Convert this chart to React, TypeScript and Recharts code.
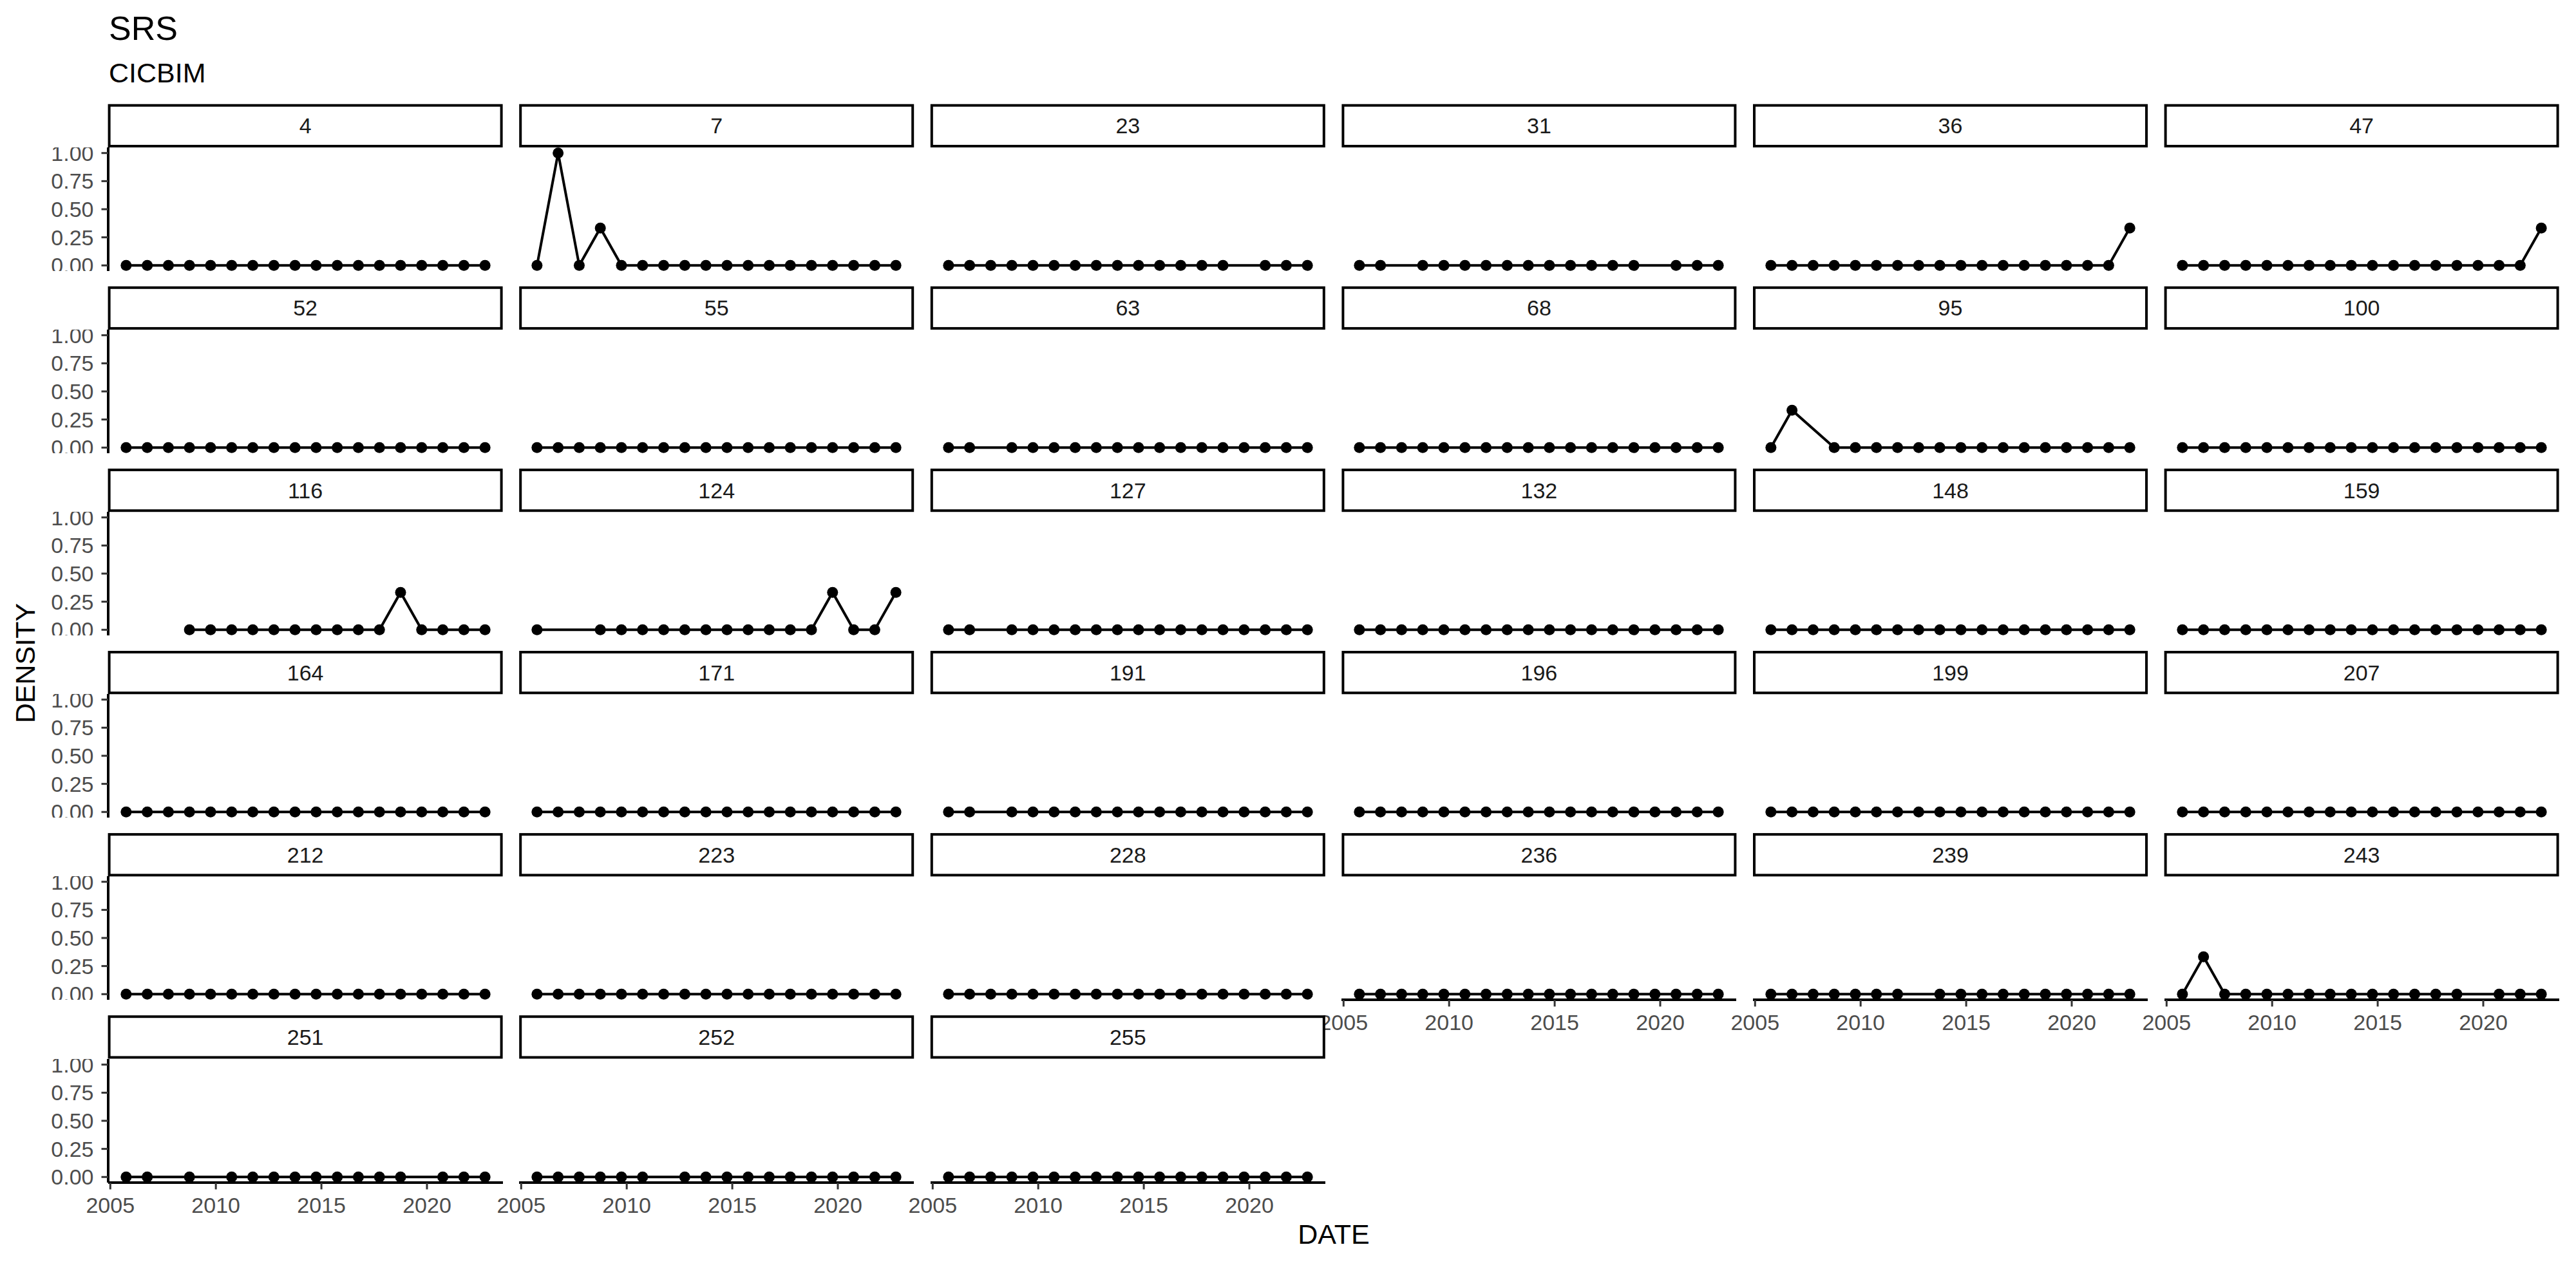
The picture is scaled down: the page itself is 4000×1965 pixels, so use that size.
import React from "react";
import { LineChart, Line, XAxis, YAxis } from "recharts";

// Facet grid of yearly DENSITY per site, SRS / CICBIM.
// Missing survey years are null and skipped, so the line joins across them.

const _ = null;

const DATES = [
  2005.75, 2006.75, 2007.75, 2008.75, 2009.75, 2010.75, 2011.75, 2012.75, 2013.75,
  2014.75, 2015.75, 2016.75, 2017.75, 2018.75, 2019.75, 2020.75, 2021.75, 2022.75,
];

const PANELS = [
  "4", "7", "23", "31", "36", "47",
  "52", "55", "63", "68", "95", "100",
  "116", "124", "127", "132", "148", "159",
  "164", "171", "191", "196", "199", "207",
  "212", "223", "228", "236", "239", "243",
  "251", "252", "255",
];

const DENSITY: (number | null)[][] = [
  [0, 0, 0, 0, 0, 0, 0, 0, 0, 0, 0, 0, 0, 0, 0, 0, 0, 0], // 4
  [0, 1, 0, 0.333, 0, 0, 0, 0, 0, 0, 0, 0, 0, 0, 0, 0, 0, 0], // 7
  [0, 0, 0, 0, 0, 0, 0, 0, 0, 0, 0, 0, 0, 0, _, 0, 0, 0], // 23
  [0, 0, _, 0, 0, 0, 0, 0, 0, 0, 0, 0, 0, 0, _, 0, 0, 0], // 31
  [0, 0, 0, 0, 0, 0, 0, 0, 0, 0, 0, 0, 0, 0, 0, 0, 0, 0.333], // 36
  [0, 0, 0, 0, 0, 0, 0, 0, 0, 0, 0, 0, 0, 0, 0, 0, 0, 0.333], // 47
  [0, 0, 0, 0, 0, 0, 0, 0, 0, 0, 0, 0, 0, 0, 0, 0, 0, 0], // 52
  [0, 0, 0, 0, 0, 0, 0, 0, 0, 0, 0, 0, 0, 0, 0, 0, 0, 0], // 55
  [0, 0, _, 0, 0, 0, 0, 0, 0, 0, 0, 0, 0, 0, 0, 0, 0, 0], // 63
  [0, 0, 0, 0, 0, 0, 0, 0, 0, 0, 0, 0, 0, 0, 0, 0, 0, 0], // 68
  [0, 0.333, _, 0, 0, 0, 0, 0, 0, 0, 0, 0, 0, 0, 0, 0, 0, 0], // 95
  [0, 0, 0, 0, 0, 0, 0, 0, 0, 0, 0, 0, 0, 0, 0, 0, 0, 0], // 100
  [_, _, _, 0, 0, 0, 0, 0, 0, 0, 0, 0, 0, 0.333, 0, 0, 0, 0], // 116
  [0, _, _, 0, 0, 0, 0, 0, 0, 0, 0, 0, 0, 0, 0.333, 0, 0, 0.333], // 124
  [0, 0, _, 0, 0, 0, 0, 0, 0, 0, 0, 0, 0, 0, 0, 0, 0, 0], // 127
  [0, 0, 0, 0, 0, 0, 0, 0, 0, 0, 0, 0, 0, 0, 0, 0, 0, 0], // 132
  [0, 0, 0, 0, 0, 0, 0, 0, 0, 0, 0, 0, 0, 0, 0, 0, 0, 0], // 148
  [0, 0, 0, 0, 0, 0, 0, 0, 0, 0, 0, 0, 0, 0, 0, 0, 0, 0], // 159
  [0, 0, 0, 0, 0, 0, 0, 0, 0, 0, 0, 0, 0, 0, 0, 0, 0, 0], // 164
  [0, 0, 0, 0, 0, 0, 0, 0, 0, 0, 0, 0, 0, 0, 0, 0, 0, 0], // 171
  [0, 0, _, 0, 0, 0, 0, 0, 0, 0, 0, 0, 0, 0, 0, 0, 0, 0], // 191
  [0, 0, 0, 0, 0, 0, 0, 0, 0, 0, 0, 0, 0, 0, 0, 0, 0, 0], // 196
  [0, 0, 0, 0, 0, 0, 0, 0, 0, 0, 0, 0, 0, 0, 0, 0, 0, 0], // 199
  [0, 0, 0, 0, 0, 0, 0, 0, 0, 0, 0, 0, 0, 0, 0, 0, 0, 0], // 207
  [0, 0, 0, 0, 0, 0, 0, 0, 0, 0, 0, 0, 0, 0, 0, 0, 0, 0], // 212
  [0, 0, 0, 0, 0, 0, 0, 0, 0, 0, 0, 0, 0, 0, 0, 0, 0, 0], // 223
  [0, 0, 0, 0, 0, 0, 0, 0, 0, 0, 0, 0, 0, 0, 0, 0, 0, 0], // 228
  [0, 0, 0, 0, 0, 0, 0, 0, 0, 0, 0, 0, 0, 0, 0, 0, 0, 0], // 236
  [0, 0, 0, 0, 0, 0, 0, _, 0, 0, 0, 0, 0, 0, 0, 0, 0, 0], // 239
  [0, 0.333, 0, 0, 0, 0, 0, 0, 0, 0, 0, 0, 0, 0, _, 0, 0, 0], // 243
  [0, 0, _, 0, _, 0, 0, 0, 0, 0, 0, 0, 0, 0, _, 0, 0, 0], // 251
  [0, 0, 0, 0, 0, 0, _, 0, 0, 0, 0, 0, 0, 0, 0, 0, 0, 0], // 252
  [0, 0, 0, 0, 0, 0, 0, 0, 0, 0, 0, 0, 0, 0, 0, 0, 0, 0], // 255
];

const X_TICKS = [2005, 2010, 2015, 2020];
const Y_TICKS = [0, 0.25, 0.5, 0.75, 1];

const X_DOMAIN: [number, number] = [2004.9, 2023.6];
const Y_DOMAIN: [number, number] = [-0.05, 1.05];

// layout (px, full size)
const W = 4000;
const H = 1965;
const NCOL = 6;
const COL_X = 167.6;
const COL_STEP = 638.6;
const PANEL_W = 613;
const ROW_Y = 161.7;
const ROW_STEP = 283.1;
const STRIP_H = 67.3;
const PLOT_H = 192;
const Y_AXIS_W = 150;
const X_AXIS_H = 60;
const PAD = 45; // side room so edge tick labels are not cut by the svg

const FONT = "'Liberation Sans', Arial, Helvetica, sans-serif";
const TICK = { fill: "#4D4D4D", fontSize: 34, fontFamily: FONT };
const AXIS_LINE = { stroke: "#000", strokeWidth: 4 };
const TICK_LINE = { stroke: "#333", strokeWidth: 3 };

function Panel({ idx }: { idx: number }) {
  const col = idx % NCOL;
  const row = Math.floor(idx / NCOL);
  const showY = col === 0;
  const showX = idx + NCOL >= PANELS.length;
  const padL = showY ? 0 : PAD;
  const left = COL_X + col * COL_STEP - (showY ? Y_AXIS_W : 0) - padL;
  const top = ROW_Y + row * ROW_STEP + STRIP_H;
  const data = DATES.map((d, k) => ({ date: d, value: DENSITY[idx][k] })).filter(
    (p) => p.value !== null
  );

  return (
    <div style={{ position: "absolute", left, top }}>
      <LineChart
        width={PANEL_W + (showY ? Y_AXIS_W : 0) + padL + PAD}
        height={PLOT_H + (showX ? X_AXIS_H : 0)}
        data={data}
        margin={{ top: 0, right: PAD, bottom: 0, left: padL }}
      >
        <XAxis
          dataKey="date"
          type="number"
          domain={X_DOMAIN}
          ticks={X_TICKS}
          interval={0}
          allowDataOverflow
          hide={!showX}
          height={X_AXIS_H}
          axisLine={AXIS_LINE}
          tickLine={TICK_LINE}
          tickSize={10.5}
          tickMargin={12}
          tick={TICK}
        />
        <YAxis
          type="number"
          domain={Y_DOMAIN}
          ticks={Y_TICKS}
          interval={0}
          allowDataOverflow
          hide={!showY}
          width={Y_AXIS_W}
          axisLine={AXIS_LINE}
          tickLine={TICK_LINE}
          tickSize={10.5}
          tickMargin={12}
          tick={TICK}
          tickFormatter={(v: number) => v.toFixed(2)}
        />
        <Line
          type="linear"
          dataKey="value"
          stroke="#000"
          strokeWidth={4}
          dot={{ r: 8.5, fill: "#000", stroke: "none" }}
          activeDot={false}
          isAnimationActive={false}
        />
      </LineChart>
    </div>
  );
}

function Overlay() {
  return (
    <svg
      width={W}
      height={H}
      style={{ position: "absolute", left: 0, top: 0, pointerEvents: "none" }}
      fontFamily={FONT}
    >
      <text x={169} y={62} fontSize={52} fill="#000">SRS</text>
      <text x={169} y={128} fontSize={43} fill="#000">CICBIM</text>
      {PANELS.map((label, i) => {
        const x = COL_X + (i % NCOL) * COL_STEP;
        const y = ROW_Y + Math.floor(i / NCOL) * ROW_STEP;
        return (
          <g key={label}>
            <rect x={x + 2} y={y + 2} width={PANEL_W - 4} height={STRIP_H - 4} fill="#fff" stroke="#000" strokeWidth={4} />
            <text x={x + PANEL_W / 2} y={y + STRIP_H / 2 + 12} fontSize={34} fill="#1A1A1A" textAnchor="middle">
              {label}
            </text>
          </g>
        );
      })}
      <text x={2071} y={1932} fontSize={43} fill="#000" textAnchor="middle">DATE</text>
      <text x={54} y={1030} fontSize={43} fill="#000" textAnchor="middle" transform="rotate(-90 54 1030)">
        DENSITY
      </text>
    </svg>
  );
}

export default function App() {
  return (
    <div style={{ position: "absolute", left: 0, top: 0, width: W, height: H, background: "#fff", overflow: "hidden" }}>
      {PANELS.map((_, i) => (
        <Panel key={i} idx={i} />
      ))}
      <Overlay />
    </div>
  );
}
